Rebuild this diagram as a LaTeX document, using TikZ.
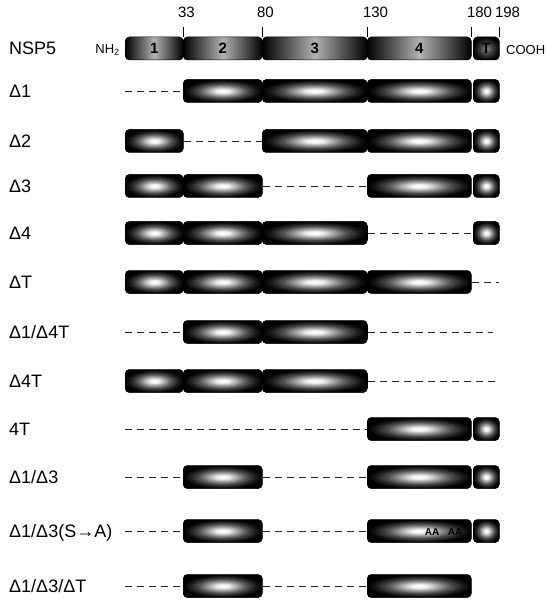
\documentclass[tikz,border=0pt]{standalone}
\usepackage{fontspec}
\setmainfont{Liberation Sans}
\usepackage{tikz}
\usetikzlibrary{positioning,calc}
\pgfdeclareradialshading{glow}{\pgfpoint{0bp}{0bp}}{color(0bp)=(white); color(4bp)=(black!6); color(9bp)=(black!35); color(15bp)=(black!68); color(21bp)=(black!90); color(25bp)=(black); color(50bp)=(black)}
\pgfdeclareradialshading{glowdark}{\pgfpoint{0bp}{0bp}}{color(0bp)=(black!45); color(12bp)=(black!75); color(25bp)=(black); color(50bp)=(black)}

\begin{document}
\begin{tikzpicture}[x=1pt,y=-1pt,
  dom/.style={rectangle,rounded corners=4pt,draw=black,line width=0.5pt,inner sep=0pt,minimum height=23pt,anchor=west,shading=glow,font=\bfseries\fontsize{15}{17}\selectfont},
  dom1/.style={dom,minimum width=58pt},
  dom2/.style={dom,minimum width=79pt},
  dom3/.style={dom,minimum width=105pt},
  dom4/.style={dom,minimum width=104pt},
  domT/.style={dom,minimum width=26pt},
  wt/.style={left color=black,right color=black,middle color=black!30},
  deleted/.style={dash pattern=on 7pt off 5pt,line width=0.9pt,black!85},
  rowlbl/.style={anchor=base west,inner sep=0pt,font=\fontsize{18}{21}\selectfont},
  ticklbl/.style={anchor=base west,inner sep=0pt,outer sep=0pt,font=\fontsize{15}{17}\selectfont},
  endlbl/.style={inner sep=0pt,font=\fontsize{13}{15}\selectfont},
  mutlbl/.style={inner sep=0pt,font=\bfseries\fontsize{10}{12}\selectfont}]
\useasboundingbox (0,0) rectangle (546,601);

% wild type
\begin{scope}[shift={(0,48.5)}]
\node[rowlbl] (l0) at (9,6.5) {NSP5};
\node[dom1,wt] (w1) at (125,0) {1};
\node[dom2,wt] (w2) at (183,0) {2};
\node[dom3,wt] (w3) at (262,0) {3};
\node[dom4,wt] (w4) at (367,0) {4};
\node[domT,shading=glowdark] (wT) at (473,0) {T};
\node[endlbl,anchor=east] (nh2) at (120,1.5) {NH\textsubscript{2}};
\node[endlbl,anchor=west] (cooh) at (506,1.5) {COOH};
\end{scope}

\node[ticklbl] (t33) at (178,17.5) {33};
\node[ticklbl] (t80) at (257,17.5) {80};
\node[ticklbl] (t130) at (363,17.5) {130};
\node[ticklbl] (t180) at (467,17.5) {180};
\node[ticklbl] (t198) at (495,17.5) {198};
\draw[shorten >=9.5pt] (w2.north west) -- (w2.north west |- t33.south);
\draw[shorten >=9.5pt] (w3.north west) -- (w3.north west |- t80.south);
\draw[shorten >=9.5pt] (w4.north west) -- (w4.north west |- t130.south);
\draw[shorten >=9.5pt] (w4.north east) -- (w4.north east |- t180.south);
\draw[shorten >=9.5pt] (wT.north east) -- (wT.north east |- t198.south);

% deletion mutants
\begin{scope}[shift={(0,91)}]
\node[rowlbl] (l1) at (9,6.5) {Δ1};
\coordinate (a0) at (125,0);
\node[dom2] (a2) at (183,0) {};
\node[dom3] (a3) at (262,0) {};
\node[dom4] (a4) at (367,0) {};
\node[domT] (aT) at (473,0) {};
\draw[deleted] (a0) -- (a2.west);
\end{scope}

\begin{scope}[shift={(0,141)}]
\node[rowlbl] (l2) at (9,6.5) {Δ2};
\node[dom1] (b1) at (125,0) {};
\node[dom3] (b3) at (262,0) {};
\node[dom4] (b4) at (367,0) {};
\node[domT] (bT) at (473,0) {};
\draw[deleted] (b1.east) -- (b3.west);
\end{scope}

\begin{scope}[shift={(0,186)}]
\node[rowlbl] (l3) at (9,6.5) {Δ3};
\node[dom1] (c1) at (125,0) {};
\node[dom2] (c2) at (183,0) {};
\node[dom4] (c4) at (367,0) {};
\node[domT] (cT) at (473,0) {};
\draw[deleted] (c2.east) -- (c4.west);
\end{scope}

\begin{scope}[shift={(0,233)}]
\node[rowlbl] (l4) at (9,6.5) {Δ4};
\node[dom1] (d1) at (125,0) {};
\node[dom2] (d2) at (183,0) {};
\node[dom3] (d3) at (262,0) {};
\node[domT] (dT) at (473,0) {};
\draw[deleted] (d3.east) -- (dT.west);
\end{scope}

\begin{scope}[shift={(0,282)}]
\node[rowlbl] (l5) at (9,6.5) {ΔT};
\node[dom1] (e1) at (125,0) {};
\node[dom2] (e2) at (183,0) {};
\node[dom3] (e3) at (262,0) {};
\node[dom4] (e4) at (367,0) {};
\coordinate (eE) at (499,0);
\draw[deleted] (e4.east) -- (eE);
\end{scope}

\begin{scope}[shift={(0,332)}]
\node[rowlbl] (l6) at (9,6.5) {Δ1/Δ4T};
\coordinate (f0) at (125,0);
\node[dom2] (f2) at (183,0) {};
\node[dom3] (f3) at (262,0) {};
\coordinate (fE) at (493,0);
\draw[deleted] (f0) -- (f2.west);
\draw[deleted] (f3.east) -- (fE);
\end{scope}

\begin{scope}[shift={(0,381)}]
\node[rowlbl] (l7) at (9,6.5) {Δ4T};
\node[dom1] (g1) at (125,0) {};
\node[dom2] (g2) at (183,0) {};
\node[dom3] (g3) at (262,0) {};
\coordinate (gE) at (499,0);
\draw[deleted] (g3.east) -- (gE);
\end{scope}

\begin{scope}[shift={(0,429)}]
\node[rowlbl] (l8) at (9,6.5) {4T};
\coordinate (h0) at (125,0);
\node[dom4] (h4) at (367,0) {};
\node[domT] (hT) at (473,0) {};
\draw[deleted] (h0) -- (h4.west);
\end{scope}

\begin{scope}[shift={(0,477)}]
\node[rowlbl] (l9) at (9,6.5) {Δ1/Δ3};
\coordinate (i0) at (125,0);
\node[dom2] (i2) at (183,0) {};
\node[dom4] (i4) at (367,0) {};
\node[domT] (iT) at (473,0) {};
\draw[deleted] (i0) -- (i2.west);
\draw[deleted] (i2.east) -- (i4.west);
\end{scope}

\begin{scope}[shift={(0,531)}]
\node[rowlbl] (l10) at (9,6.5) {Δ1/Δ3(S→A)};
\coordinate (j0) at (125,0);
\node[dom2] (j2) at (183,0) {};
\node[dom4] (j4) at (367,0) {};
\node[domT] (jT) at (473,0) {};
\node[mutlbl] (aa1) at (432,1) {AA};
\node[mutlbl] (aa2) at (455,1) {AA};
\draw[deleted] (j0) -- (j2.west);
\draw[deleted] (j2.east) -- (j4.west);
\end{scope}

\begin{scope}[shift={(0,586)}]
\node[rowlbl] (l11) at (9,6.5) {Δ1/Δ3/ΔT};
\coordinate (k0) at (125,0);
\node[dom2] (k2) at (183,0) {};
\node[dom4] (k4) at (367,0) {};
\draw[deleted] (k0) -- (k2.west);
\draw[deleted] (k2.east) -- (k4.west);
\end{scope}

\end{tikzpicture}
\end{document}
